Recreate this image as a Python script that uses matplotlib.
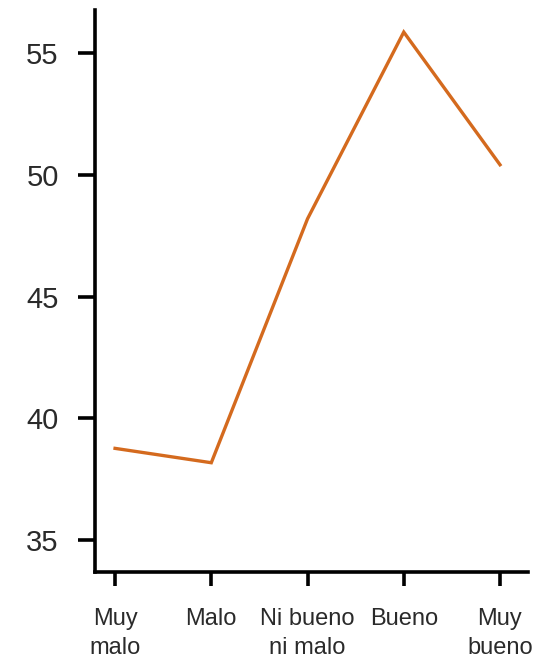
import matplotlib
matplotlib.use("Agg")
import matplotlib.pyplot as plt

# data
categories = ["Muy\nmalo", "Malo", "Ni bueno\nni malo", "Bueno", "Muy\nbueno"]
values = [38.77, 38.18, 48.2, 55.87, 50.42]
yticks = [35, 40, 45, 50, 55]

plt.rcParams['font.family'] = ['Liberation Sans', 'DejaVu Sans']

fig = plt.figure(figsize=(5.42, 6.61), dpi=100)
ax = fig.add_axes([0.175, 0.1346, 0.799, 0.850])

x = list(range(len(categories)))
ax.plot(x, values, color='#D46A1E', linewidth=2.4, solid_joinstyle='miter')

ax.set_xlim(-0.21, 4.29)
ax.set_ylim(33.69, 56.77)
ax.set_xticks(x)
ax.set_xticklabels(categories, fontsize=17, color='#2a2a2a', linespacing=1.4)
ax.set_yticks(yticks)
ax.set_yticklabels([str(v) for v in yticks], fontsize=21, color='#2a2a2a')

for side in ['top', 'right']:
    ax.spines[side].set_visible(False)
for side in ['left', 'bottom']:
    ax.spines[side].set_linewidth(2.6)

ax.tick_params(axis='y', length=12, width=2.6, pad=14)
ax.tick_params(axis='x', length=10, width=2.6, pad=16)

fig.savefig("out.png", dpi=100)
